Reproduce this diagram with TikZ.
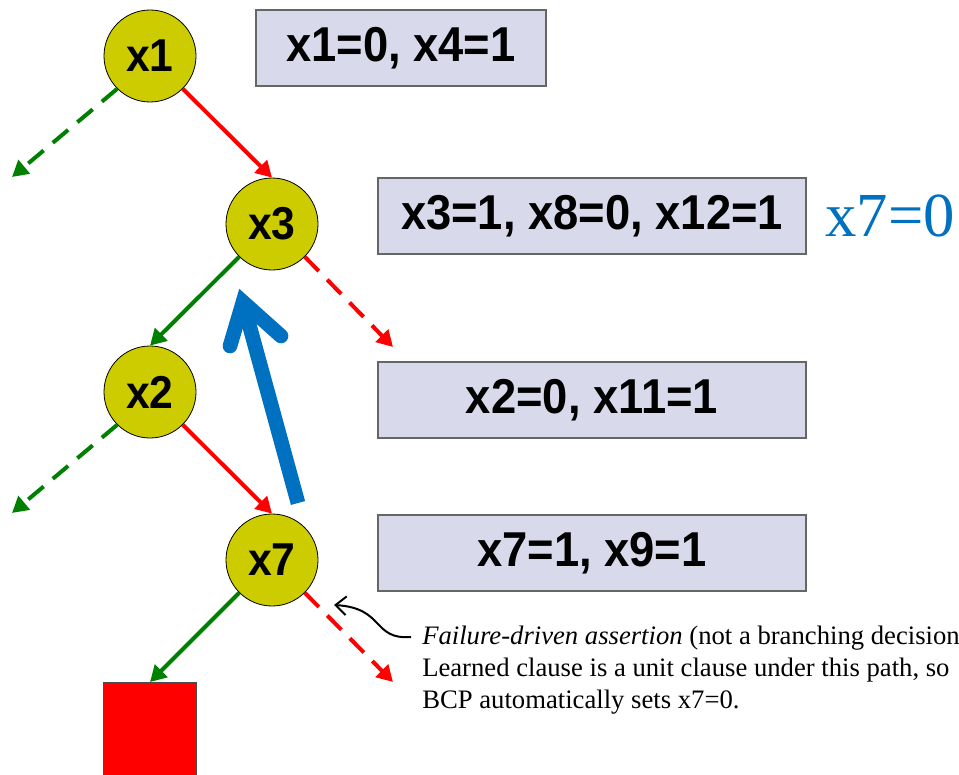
\documentclass[tikz,border=0pt]{standalone}
\usepackage{fontspec}
\usepackage{graphicx}
\setmainfont{Liberation Serif}
\setsansfont{Liberation Sans}
\usetikzlibrary{arrows.meta}
\definecolor{varfill}{RGB}{204,204,0}
\definecolor{trailfill}{RGB}{217,217,236}
\definecolor{backblue}{RGB}{0,112,192}
\definecolor{truegreen}{RGB}{0,128,0}
\newcommand\tallbf[1]{\scalebox{1}[1.08]{#1}}

\begin{document}
\begin{tikzpicture}[x=0.75pt, y=-0.75pt, >={Triangle[length=12pt,width=13pt]},
  var/.style={circle, draw=black, line width=0.6pt, fill=varfill, minimum size=69pt, inner sep=0pt,
    font=\sffamily\bfseries\fontsize{32}{32}\selectfont},
  trail/.style={draw=black!60, line width=1.5pt, fill=trailfill, minimum height=57pt,
    font=\sffamily\bfseries\fontsize{34}{34}\selectfont},
  onedge/.style={->, red, line width=3pt},
  zeroedge/.style={->, truegreen, line width=3pt},
  untried/.style={dash pattern=on 15pt off 9pt}]
  \useasboundingbox (0,0) rectangle (959,774);

  % Decision variables and the conflict leaf.
  \node[var] (x1) at (150,56) {\tallbf{x1}};
  \node[var] (x3) at (272,224) {\tallbf{x3}};
  \node[var] (x2) at (150,392) {\tallbf{x2}};
  \node[var] (x7) at (272,560) {\tallbf{x7}};
  \node[draw=black!70, fill=red, minimum size=70pt, inner sep=0pt] (conflict) at (150,729) {};

  % Implied assignments per level.
  \node[trail, minimum width=218pt] (t1) at (401,48) {\tallbf{x1=0, x4=1}};
  \node[trail, minimum width=321pt] (t3) at (592,216) {\tallbf{x3=1, x8=0, x12=1}};
  \node[trail, minimum width=321pt] (t2) at (592,400) {\tallbf{x2=0, x11=1}};
  \node[trail, minimum width=321pt] (t7) at (592,553) {\tallbf{x7=1, x9=1}};
  \node[text=backblue, font=\fontsize{47}{47}\selectfont] (assert) at (890,216) {x7=0};

  % Loose ends of the untried branches.
  \coordinate (x1l) at (12,177);
  \coordinate (x3r) at (393,347);
  \coordinate (x2l) at (12,513);
  \coordinate (x7r) at (393,682);

  \draw[zeroedge, untried] (x1.south west) -- (x1l);
  \draw[onedge] (x1.south east) -- (x3.north);
  \draw[zeroedge] (x3.south west) -- (x2.north);
  \draw[onedge, untried] (x3.south east) -- (x3r);
  \draw[zeroedge, untried] (x2.south west) -- (x2l);
  \draw[onedge] (x2.south east) -- (x7.north);
  \draw[zeroedge] (x7.south west) -- (conflict.north);
  \draw[onedge, untried] (x7.south east) -- (x7r);

  % Backjump from x7 up to x3: shaft, then the open head.
  \coordinate (bj0) at (298,503);
  \coordinate (bj1) at (243,302);
  \coordinate (bjl) at (230,346);
  \coordinate (bjr) at (281,336);
  \draw[backblue, line width=11pt] (bj0) -- (bj1);
  \draw[backblue, line width=11pt, line cap=round, line join=miter] (bjl) -- (bj1) -- (bjr);

  % Note on the asserted value.
  \node[anchor=north west, inner sep=0pt, align=left, font=\fontsize{20}{24}\selectfont] (note) at (422,626)
    {\textit{Failure-driven assertion} (not a branching decision\\
     Learned clause is a unit clause under this path, so\\
     BCP automatically sets x7=0.};
  \coordinate (fda) at (411,637);
  \coordinate (fdb) at (334,605);
  \draw[line width=1.5pt, -{Straight Barb[length=8pt, width=14pt]}]
    (fda) .. controls (372,640) and (385,608) .. (fdb);
\end{tikzpicture}
\end{document}
